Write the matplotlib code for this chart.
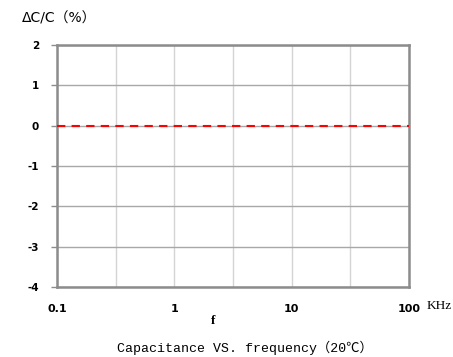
import matplotlib.pyplot as plt
import numpy as np

# data
freq = [0.1, 1, 10, 100]
dcc = [0, 0, 0, 0]
xticks = [0.1, 1, 10, 100]
xlabels = ["0.1", "1", "10", "100"]
yticks = [-4, -3, -2, -1, 0, 1, 2]

fig = plt.figure(figsize=(4.53, 3.57), dpi=100)
ax = fig.add_axes([57/453, 1-287/357, (409-57)/453, (287-45)/357])

ax.set_xscale("log")
ax.set_xlim(0.1, 100)
ax.set_ylim(-4, 2)

# grid: vertical at half decades, horizontal at integers
for v in 10 ** np.arange(-1, 2.01, 0.5):
    ax.axvline(v, color="#d4d4d4", lw=1, zorder=1)
for v in yticks:
    ax.axhline(v, color="#a8a8a8", lw=1, zorder=1)

ax.plot(freq, dcc, color="red", lw=1.5, dashes=(4, 3), zorder=3)

for s in ax.spines.values():
    s.set_color("#8c8c8c")
    s.set_linewidth(1.8)

ax.set_yticks(yticks)
ax.set_yticklabels([str(v) for v in yticks], fontsize=7.5, fontweight="bold",
                   family="DejaVu Sans")
ax.tick_params(axis="y", length=4, width=1, color="#8c8c8c", pad=9)
ax.set_xticks(xticks)
ax.set_xticklabels(xlabels, fontsize=8, fontweight="bold", family="DejaVu Sans")
ax.xaxis.set_minor_locator(plt.NullLocator())
ax.tick_params(axis="x", length=0, pad=12)

fig.text(427/453, 1-306/357, "KHz", fontsize=9.5, family="Liberation Serif",
         ha="left", va="center")
fig.text(213/453, 1-321/357, "f", fontsize=9.5, family="Liberation Serif",
         fontweight="bold", ha="center", va="center")
fig.text(22/453, 1-18/357, "ΔC/C（%）", fontsize=10,
         family=["DejaVu Sans", "Noto Sans CJK SC"], ha="left", va="center")
fig.text(245/453, 1-348/357, "Capacitance VS. frequency（20℃）", fontsize=9.5,
         family=["Liberation Mono", "Noto Sans CJK SC"], ha="center", va="center")

fig.savefig("out.png", dpi=100)
